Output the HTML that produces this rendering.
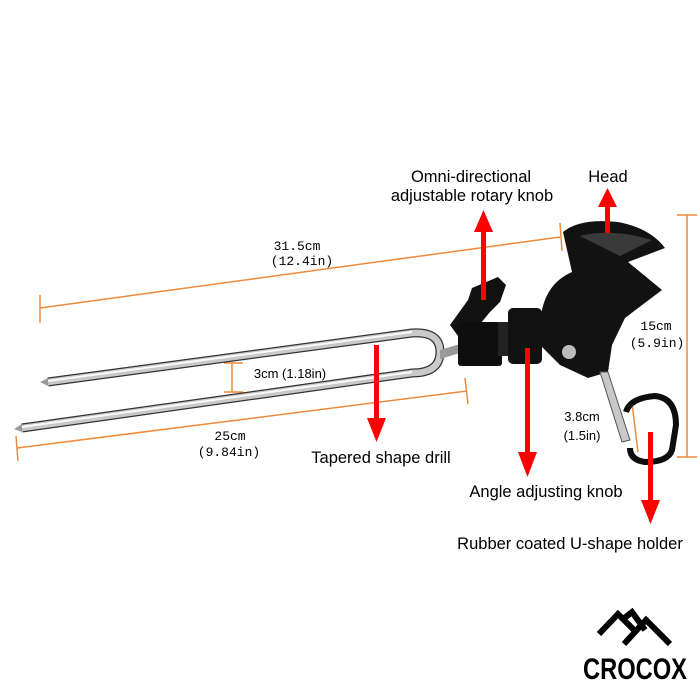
<!DOCTYPE html>
<html><head><meta charset="utf-8"><style>
html,body{margin:0;padding:0;background:#fff;width:700px;height:700px;overflow:hidden}
svg{display:block}
.c{font-family:"Liberation Sans",sans-serif;fill:#000}
.m{font-family:"Liberation Mono","DejaVu Sans Mono",monospace;fill:#000;font-size:13px}
</style></head><body>
<svg width="700" height="700" viewBox="0 0 700 700" xmlns="http://www.w3.org/2000/svg">
<g stroke="#ee8a3a" stroke-width="1.5" fill="none">
<line x1="40" y1="308" x2="560" y2="237"/>
<line x1="40" y1="295" x2="40" y2="323"/>
<line x1="560" y1="223" x2="562" y2="251"/>
<line x1="17" y1="448" x2="467" y2="391"/>
<line x1="16" y1="436" x2="18" y2="461"/>
<line x1="465" y1="378" x2="468" y2="404"/>
<line x1="687" y1="215" x2="687" y2="457"/>
<line x1="677" y1="215" x2="697" y2="215"/>
<line x1="677" y1="457" x2="697" y2="457"/>
<line x1="232" y1="363" x2="232" y2="392"/>
<line x1="224" y1="363" x2="243" y2="363"/>
<line x1="224" y1="392" x2="243" y2="392"/>
<line x1="632" y1="403" x2="638" y2="452"/>
</g>
<!-- fork -->
<path d="M48,382 L412,333 Q440,331 440,352 Q440,373 412,373 L22,428" fill="none" stroke="#333" stroke-width="9" stroke-linecap="butt"/>
<path d="M48,382 L412,333 Q440,331 440,352 Q440,373 412,373 L22,428" fill="none" stroke="#c9c9c9" stroke-width="6.5"/>
<path d="M48,381 L412,332 M22,427 L412,372" fill="none" stroke="#fafafa" stroke-width="2"/>
<polygon points="48,378 48,386 40,382" fill="#999"/>
<polygon points="22,424 22,432 14,429" fill="#999"/>
<path d="M440,350 l20,-6 l0,9 l-20,6z" fill="#999"/>
<!-- knob block -->
<path d="M450,325 L468,300 L472,288 L498,277 L506,285 L500,302 L490,312 L475,330 L458,336 Z" fill="#111"/>
<rect x="458" y="322" width="44" height="44" rx="3" fill="#0e0e0e"/>
<rect x="498" y="322" width="14" height="34" fill="#222"/>
<rect x="508" y="308" width="34" height="56" rx="5" fill="#111"/>
<!-- clamp -->
<path d="M540,325 Q542,285 572,272 L563,232 Q580,218 618,222 Q650,228 665,248 L628,262 L662,290 L625,318 L612,345 L608,372 L588,378 L560,365 L540,345 Z" fill="#121212"/>
<path d="M580,236 Q612,228 652,240 L620,256 Z" fill="#3a3a3a"/>
<circle cx="569" cy="352" r="7" fill="#bbb"/>
<path d="M600,372 L608,372 L630,440 L622,442 Z" fill="#c8c8c8" stroke="#555" stroke-width="1"/>
<path d="M626,412 Q630,398 655,396 Q676,398 676,425 L672,450 Q668,462 645,462 Q630,460 630,448" fill="none" stroke="#0e0e0e" stroke-width="6"/>
<!-- red arrows -->
<g fill="#f00">
<rect x="481" y="230" width="5" height="70"/><polygon points="474,232 493,232 483.5,210"/>
<rect x="605" y="205" width="5" height="28"/><polygon points="598,207 617,207 607.5,188"/>
<rect x="374" y="345" width="5" height="75"/><polygon points="367,418 386,418 376.5,442"/>
<rect x="525" y="348" width="5" height="106"/><polygon points="518,452 537,452 527.5,477"/>
<rect x="648" y="432" width="5" height="70"/><polygon points="641,500 660,500 650.5,524"/>
</g>
<!-- labels -->
<g class="c" font-size="16.5" text-anchor="middle">
<text x="471" y="182">Omni-directional</text>
<text x="472" y="201">adjustable rotary knob</text>
<text x="608" y="182">Head</text>
<text x="381" y="463">Tapered shape drill</text>
<text x="546" y="497">Angle adjusting knob</text>
<text x="570" y="549">Rubber coated U-shape holder</text>
</g>
<g class="c" font-size="13" text-anchor="middle">
<text x="290" y="378">3cm (1.18in)</text>
<text x="582" y="421">3.8cm</text>
<text x="582" y="440">(1.5in)</text>
</g>
<g class="m" text-anchor="middle">
<text x="297" y="250">31.5cm</text>
<text x="302" y="265">(12.4in)</text>
<text x="230" y="440">25cm</text>
<text x="229" y="456">(9.84in)</text>
<text x="656" y="330">15cm</text>
<text x="657" y="347">(5.9in)</text>
</g>
<!-- logo -->
<g fill="none" stroke="#000" stroke-width="6" stroke-linejoin="miter">
<path d="M599,634 L618,614 L634,630"/>
<path d="M622,620 L632,612 L645,630"/>
<path d="M624,644 L646,620 L670,644"/>
</g>
<text x="635" y="679" text-anchor="middle" font-family="Liberation Sans Narrow,Liberation Sans,sans-serif" font-weight="bold" font-size="30" textLength="104" lengthAdjust="spacingAndGlyphs">CROCOX</text>
</svg>
</body></html>
